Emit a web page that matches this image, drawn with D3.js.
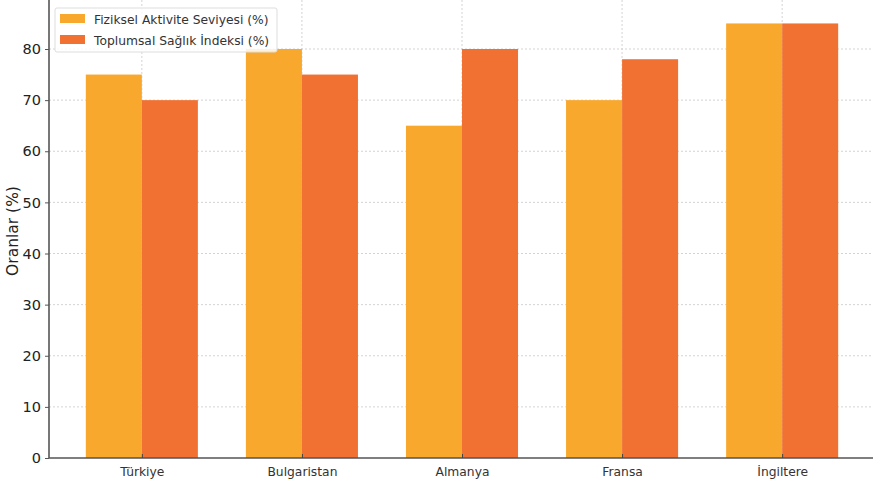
<!DOCTYPE html>
<html><head><meta charset="utf-8">
<script src="https://cdn.jsdelivr.net/npm/d3@7"></script>
<style>body{margin:0;background:#fff;} svg{display:block;}</style>
</head><body>
<svg id="c" width="873" height="484"></svg>
<script>
const categories = ["Türkiye","Bulgaristan","Almanya","Fransa","İngiltere"];
const activity = [75, 80, 65, 70, 85];
const health = [70, 75, 80, 78, 85];
const seriesNames = ["Fiziksel Aktivite Seviyesi (%)","Toplumsal Sağlık İndeksi (%)"];
const yTicks = [0,10,20,30,40,50,60,70,80];
const colors = ["#F8A82C","#F07132"];

const svg = d3.select("#c");
const left = 49, bottom = 458;
const font = "DejaVu Sans, sans-serif";

const x = d3.scaleLinear().domain([-0.58, 4.58]).range([left, 875]);
const y = d3.scaleLinear().domain([0, 80]).range([bottom, 49]);
const bw = 0.35;

// grid
const g = svg.append("g");
g.selectAll(".hg").data(yTicks.slice(1)).join("line")
  .attr("x1", left).attr("x2", 873).attr("y1", d=>y(d)).attr("y2", d=>y(d))
  .attr("stroke", "#c8c8c8").attr("stroke-width", 0.8).attr("stroke-dasharray", "2,2");
g.selectAll(".vg").data(categories).join("line")
  .attr("x1", (d,i)=>x(i)).attr("x2", (d,i)=>x(i)).attr("y1", 0).attr("y2", bottom)
  .attr("stroke", "#c8c8c8").attr("stroke-width", 0.8).attr("stroke-dasharray", "2,2");

// bars
const series = [activity, health];
series.forEach((vals, s) => {
  svg.append("g").selectAll("rect").data(vals).join("rect")
    .attr("x", (d,i)=> x(i + (s===0 ? -bw : 0)))
    .attr("width", (d,i)=> x(i + bw) - x(i))
    .attr("y", d=>y(d))
    .attr("height", d=> bottom - y(d))
    .attr("fill", colors[s]);
});

// axes
const yAxis = d3.axisLeft(y).tickValues(yTicks).tickSize(4).tickPadding(4).tickFormat(d3.format("d"));
const ya = svg.append("g").attr("transform", `translate(${left},0)`).call(yAxis);
ya.select(".domain").attr("d", `M0,0V${bottom}`).attr("stroke", "#555").attr("stroke-width", 1.6);
ya.selectAll(".tick line").attr("stroke", "#555");
ya.selectAll("text").attr("font-family", font).attr("font-size", 14.5).attr("fill", "#222");

const xa = svg.append("g").attr("transform", `translate(0,${bottom})`)
  .call(d3.axisBottom(x).tickValues(d3.range(categories.length)).tickSize(-4).tickPadding(9).tickFormat(i=>categories[i]));
xa.select(".domain").attr("d", `M${left},0H873`).attr("stroke", "#555").attr("stroke-width", 1.6);
xa.selectAll(".tick line").attr("stroke", "#444");
xa.selectAll("text").attr("font-family", font).attr("font-size", 12.3).attr("fill", "#333");

// y label
svg.append("text").attr("transform", "translate(18,231) rotate(-90)")
  .attr("text-anchor", "middle").attr("font-family", font).attr("font-size", 15.5).attr("fill", "#222")
  .text("Oranlar (%)");

// legend
const lg = svg.append("g").attr("transform", "translate(55,8)");
lg.append("rect").attr("x", 0).attr("y", 0).attr("width", 222).attr("height", 44).attr("rx", 2)
  .attr("fill", "rgba(255,255,255,0.85)").attr("stroke", "#ddd");
seriesNames.forEach((n, i) => {
  lg.append("rect").attr("x", 5).attr("y", 6 + i*21).attr("width", 25).attr("height", 9).attr("fill", colors[i]);
  lg.append("text").attr("x", 39).attr("y", 15.5 + i*21).attr("font-family", font).attr("font-size", 12.3)
    .attr("fill", "#333").text(n);
});
</script>
</body></html>
